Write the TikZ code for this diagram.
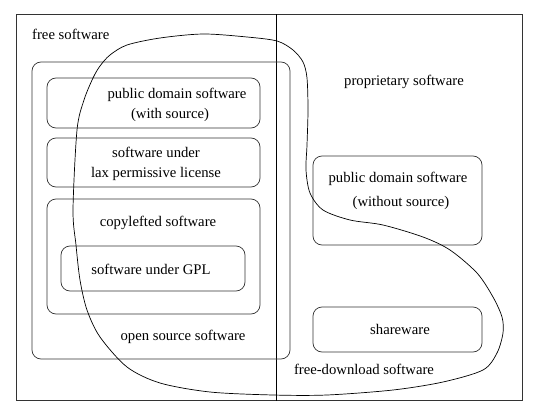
\documentclass[tikz,border=0pt]{standalone}
\usepackage{fontspec}
\setmainfont{Liberation Serif}

\begin{document}
\begin{tikzpicture}[x=1pt,y=-1pt,
		setbox/.style={draw=black!80,line width=0.7pt,rounded corners=9pt},
		lbl/.style={font=\fontsize{14.7}{18}\selectfont,inner sep=0pt,anchor=base}]
		\useasboundingbox(0,0)rectangle(550,407);
		% outer frame and the free / proprietary divider
		\draw[draw=black!80,line width=0.7pt](16,14)rectangle(522,400);
		\draw[line width=0.8pt](276,14)--(276,401);
		% sets
		\draw[setbox](32,62)rectangle(290,359);
		\draw[setbox](47,78)rectangle(260,128);
		\draw[setbox](47,138)rectangle(260,187);
		\draw[setbox](47,199)rectangle(260,314);
		\draw[setbox](61,246)rectangle(245,291);
		\draw[setbox](313,156)rectangle(482,245);
		\draw[setbox](313,307)rectangle(482,352);
		% free-download software
		\draw[line width=0.7pt]plot[smooth cycle,tension=0.5]coordinates{
			(73,210)(77,130)(84,100)(93,78)(100,66)(110,55)(127,45)(160,38)(203,34)
			(247,37)(277,41)(293,50)(303,62)(307,78)(308,110)(307,145)(306,170)
			(310,193)(323,210)(350,220)(383,225)(423,237)(450,250)(477,273)(493,297)
			(502,317)(503,333)(497,353)(483,370)(443,382)(393,390)(327,395)(273,395)
			(210,392)(160,383)(127,367)(100,337)(87,310)(80,280)(76,245)};
		% labels
		\node[lbl,anchor=base west](free)at(32,39){free software};
		\node[lbl](pdws1)at(177,98){public domain software};
		\node[lbl](pdws2)at(170,118){(with source)};
		\node[lbl](lax1)at(156,157){software under};
		\node[lbl](lax2)at(156,177){lax permissive license};
		\node[lbl](copyleft)at(158,226){copylefted software};
		\node[lbl](gpl)at(151,274){software under GPL};
		\node[lbl](oss)at(183,340){open source software};
		\node[lbl](prop)at(404,85){proprietary software};
		\node[lbl](pdns1)at(398,182){public domain software};
		\node[lbl](pdns2)at(401,206){(without source)};
		\node[lbl](share)at(400,334){shareware};
		\node[lbl](freedl)at(364,374){free-download software};
	\end{tikzpicture}
\end{document}
